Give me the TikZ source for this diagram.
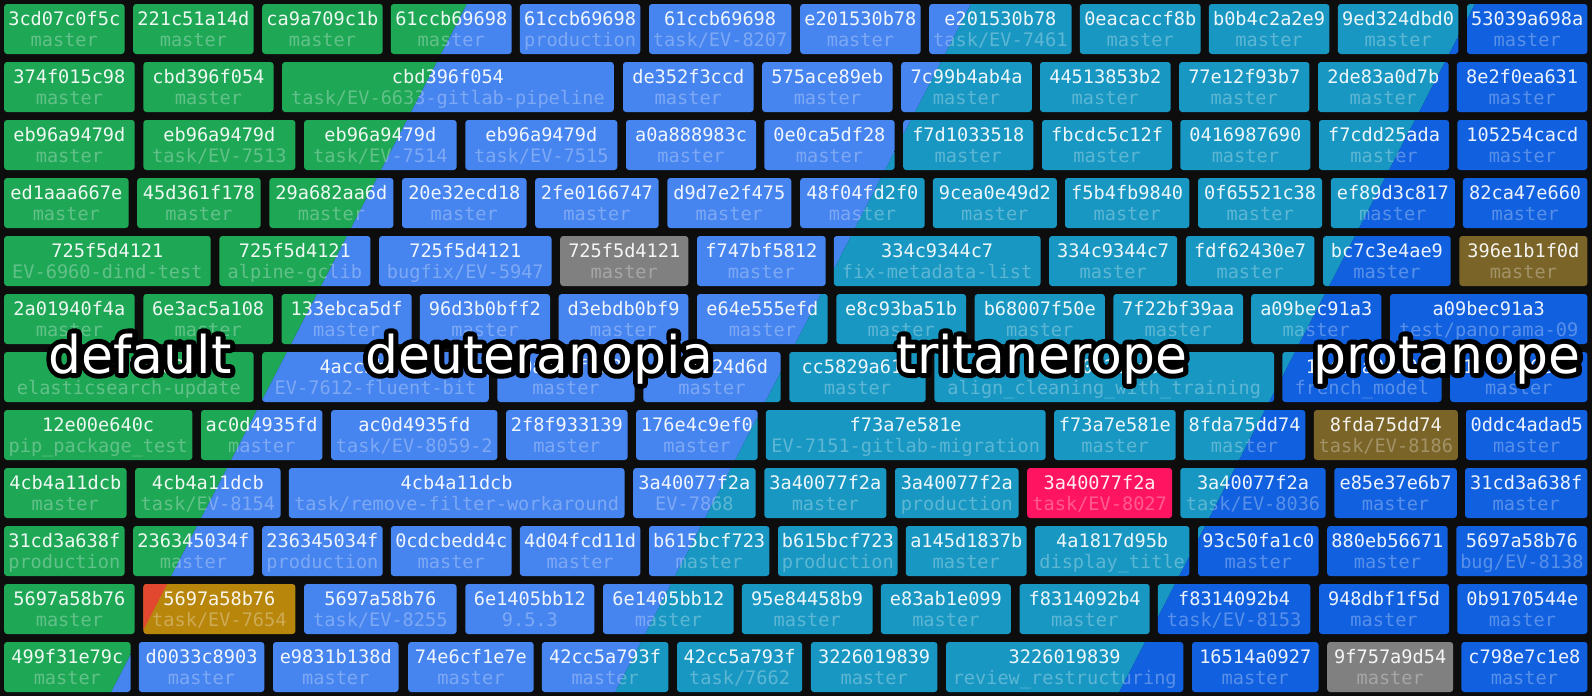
\documentclass[tikz,border=0pt]{standalone}
\usepackage{fontspec}
\setmainfont{DejaVu Sans}
\newfontfamily\boxmono{DejaVu Sans Mono}
\definecolor{bg}{HTML}{0D0D0D}
\definecolor{cgreen}{HTML}{1EA755}
\definecolor{cblue}{HTML}{4684F0}
\definecolor{cteal}{HTML}{1797C2}
\definecolor{cdark}{HTML}{1060E0}
\definecolor{cgray}{HTML}{808080}
\definecolor{cbrown}{HTML}{7A6427}
\definecolor{cpink}{HTML}{FF1462}
\definecolor{cred}{HTML}{E2472F}
\definecolor{camber}{HTML}{B8860B}
\tikzset{
  boxshape/.style={inner sep=0pt, outer sep=0pt, minimum height=50pt, draw=none},
  hashtext/.style={font=\boxmono\fontsize{18.6}{20}\selectfont, text=white, text opacity=0.92, anchor=base, inner sep=0pt},
  branchtext/.style={font=\boxmono\fontsize{18.6}{20}\selectfont, text=white, text opacity=0.3, anchor=base, inner sep=0pt},
  bigtext/.style={font=\fontsize{52}{58}\selectfont, text=white, anchor=base, inner sep=0pt}
}
\newcommand\bandfill{%
  \fill[cgreen] (-20,-20) -- (479.34,-20) -- (91.59,730) -- (-20,730) -- cycle;
  \fill[cblue] (479.34,-20) -- (983.34,-20) -- (595.59,730) -- (91.59,730) -- cycle;
  \fill[cteal] (983.34,-20) -- (1487.34,-20) -- (1099.59,730) -- (595.59,730) -- cycle;
  \fill[cdark] (1487.34,-20) -- (1620,-20) -- (1620,730) -- (1099.59,730) -- cycle;
}
\newcommand\fillsolid[1]{\fill[#1] (-20,-20) rectangle (1620,730);}
\newcommand\redamber{%
  \fill[camber] (-20,-20) rectangle (1620,730);
  \fill[cred] (-20,-20) -- (479.34,-20) -- (91.59,730) -- (-20,730) -- cycle;
}
\newcommand\cb[7][\bandfill]{%
  \pgfmathsetmacro\myyt{4+58*#5}%
  \pgfmathsetmacro\myxm{(#3+#4)/2}%
  \pgfmathsetmacro\mybw{#4-#3}%
  \node[boxshape, minimum width=\mybw pt] (#2) at (\myxm,\myyt+25) {};
  \begin{scope}
    \clip[rounded corners=3pt] (#2.north west) rectangle (#2.south east);
    #1
  \end{scope}
  \node[hashtext] (#2h) at (\myxm,\myyt+21.7) {#6};
  \node[branchtext] (#2b) at (\myxm,\myyt+42) {#7};
}
\newcommand\outlined[1]{%
  \rlap{\color{black}\special{pdf:literal direct 2 Tr 10 w 1 j 1 J}#1\special{pdf:literal direct 0 Tr}}%
  #1}
\begin{document}
\begin{tikzpicture}[x=1pt,y=-1pt]
\useasboundingbox (0,0) rectangle (1592,696);
\fill[bg] (0,0) rectangle (1592,696);
% row 0
\cb{r0c1}{4.1}{124.5}{0}{3cd07c0f5c}{master}
\cb{r0c2}{133.2}{253.6}{0}{221c51a14d}{master}
\cb{r0c3}{262.2}{382.7}{0}{ca9a709c1b}{master}
\cb{r0c4}{390.8}{511.7}{0}{61ccb69698}{master}
\cb{r0c5}{519.9}{640.3}{0}{61ccb69698}{production}
\cb{r0c6}{649}{791.3}{0}{61ccb69698}{task/EV-8207}
\cb{r0c7}{800.2}{920.6}{0}{e201530b78}{master}
\cb{r0c8}{929.2}{1071.6}{0}{e201530b78}{task/EV-7461}
\cb{r0c9}{1079.8}{1200.7}{0}{0eacaccf8b}{master}
\cb{r0c10}{1208.8}{1329.3}{0}{b0b4c2a2e9}{master}
\cb{r0c11}{1337.9}{1458.3}{0}{9ed324dbd0}{master}
\cb{r0c12}{1467}{1587.4}{0}{53039a698a}{master}
% row 1
\cb{r1c1}{4.1}{134.7}{1}{374f015c98}{master}
\cb{r1c2}{143.4}{273.5}{1}{cbd396f054}{master}
\cb{r1c3}{282.1}{613.8}{1}{cbd396f054}{task/EV-6633-gitlab-pipeline}
\cb{r1c4}{623}{753.6}{1}{de352f3ccd}{master}
\cb{r1c5}{762.2}{892.5}{1}{575ace89eb}{master}
\cb{r1c6}{901.2}{1031.8}{1}{7c99b4ab4a}{master}
\cb{r1c7}{1040}{1170.6}{1}{44513853b2}{master}
\cb{r1c8}{1179.2}{1309.3}{1}{77e12f93b7}{master}
\cb{r1c9}{1318}{1448.6}{1}{2de83a0d7b}{master}
\cb{r1c10}{1456.8}{1587.4}{1}{8e2f0ea631}{master}
% row 2
\cb{r2c1}{4.1}{134.7}{2}{eb96a9479d}{master}
\cb{r2c2}{143.4}{295.4}{2}{eb96a9479d}{task/EV-7513}
\cb{r2c3}{304.1}{456.6}{2}{eb96a9479d}{task/EV-7514}
\cb{r2c4}{465.3}{617.3}{2}{eb96a9479d}{task/EV-7515}
\cb{r2c5}{626}{756.1}{2}{a0a888983c}{master}
\cb{r2c6}{764.3}{894.6}{2}{0e0ca5df28}{master}
\cb{r2c7}{903.2}{1033.3}{2}{f7d1033518}{master}
\cb{r2c8}{1042}{1172.1}{2}{fbcdc5c12f}{master}
\cb{r2c9}{1180.3}{1310.4}{2}{0416987690}{master}
\cb{r2c10}{1319}{1449.1}{2}{f7cdd25ada}{master}
\cb{r2c11}{1457.3}{1587.4}{2}{105254cacd}{master}
% row 3
\cb{r3c1}{4.1}{128.6}{3}{ed1aaa667e}{master}
\cb{r3c2}{137.2}{260.7}{3}{45d361f178}{master}
\cb{r3c3}{269.4}{393.4}{3}{29a682aa6d}{master}
\cb{r3c4}{402}{526.5}{3}{20e32ecd18}{master}
\cb{r3c5}{535.2}{658.7}{3}{2fe0166747}{master}
\cb{r3c6}{667.3}{791.3}{3}{d9d7e2f475}{master}
\cb{r3c7}{800.2}{924.7}{3}{48f04fd2f0}{master}
\cb{r3c8}{932.8}{1056.8}{3}{9cea0e49d2}{master}
\cb{r3c9}{1065}{1189.4}{3}{f5b4fb9840}{master}
\cb{r3c10}{1198.1}{1322.1}{3}{0f65521c38}{master}
\cb{r3c11}{1330.8}{1454.8}{3}{ef89d3c817}{master}
\cb{r3c12}{1462.9}{1587.4}{3}{82ca47e660}{master}
% row 4
\cb{r4c1}{4.1}{210.7}{4}{725f5d4121}{EV-6960-dind-test}
\cb{r4c2}{219.4}{370.4}{4}{725f5d4121}{alpine-gclib}
\cb{r4c3}{379.1}{551.5}{4}{725f5d4121}{bugfix/EV-5947}
\cb[\fillsolid{cgray}]{r4c4}{560.2}{688.3}{4}{725f5d4121}{master}
\cb{r4c5}{697}{825.7}{4}{f747bf5812}{master}
\cb{r4c6}{833.8}{1040.5}{4}{334c9344c7}{fix-metadata-list}
\cb{r4c7}{1049.1}{1177.2}{4}{334c9344c7}{master}
\cb{r4c8}{1185.9}{1314.4}{4}{fdf62430e7}{master}
\cb{r4c9}{1323.1}{1450.7}{4}{bc7c3e4ae9}{master}
\cb[\fillsolid{cbrown}]{r4c10}{1459.3}{1587.4}{4}{396e1b1f0d}{master}
% row 5
\cb{r5c1}{4.1}{134.7}{5}{2a01940f4a}{master}
\cb{r5c2}{143.4}{273}{5}{6e3ac5a108}{master}
\cb{r5c3}{281.6}{411.7}{5}{133ebca5df}{master}
\cb{r5c4}{419.9}{550}{5}{96d3b0bff2}{master}
\cb{r5c5}{558.7}{688.3}{5}{d3ebdb0bf9}{master}
\cb{r5c6}{697}{827.7}{5}{e64e555efd}{master}
\cb{r5c7}{836.4}{966}{5}{e8c93ba51b}{master}
\cb{r5c8}{974.7}{1104.8}{5}{b68007f50e}{master}
\cb{r5c9}{1113.4}{1243}{5}{7f22bf39aa}{master}
\cb{r5c10}{1251.2}{1381.3}{5}{a09bec91a3}{master}
\cb{r5c11}{1390}{1587.4}{5}{a09bec91a3}{test/panorama-09}
% row 6
\cb{r6c1}{4.1}{253.6}{6}{9c1e57c3d2}{elasticsearch-update}
\cb{r6c2}{262.2}{488.8}{6}{4acc3b1e7f}{EV-7612-fluent-bit}
\cb{r6c3}{497.4}{634.7}{6}{c0a4e9f1b2}{master}
\cb{r6c4}{643.4}{780.6}{6}{a8e1f24d6d}{master}
\cb{r6c5}{789.3}{925.7}{6}{cc5829a61e}{master}
\cb{r6c6}{934.3}{1274.1}{6}{b3f0e2c8a5}{align\_cleaning\_with\_training}
\cb{r6c7}{1282.3}{1441.5}{6}{1e4f7a0c59}{french\_model}
\cb{r6c8}{1450.2}{1587.4}{6}{1c0d9a6e3b}{master}
% row 7
\cb{r7c1}{4.1}{192.3}{7}{12e00e640c}{pip\_package\_test}
\cb{r7c2}{201}{322.4}{7}{ac0d4935fd}{master}
\cb{r7c3}{331.1}{497.4}{7}{ac0d4935fd}{task/EV-8059-2}
\cb{r7c4}{506.1}{627.6}{7}{2f8f933139}{master}
\cb{r7c5}{636.2}{757.7}{7}{176e4c9ef0}{master}
\cb{r7c6}{765.8}{1045.6}{7}{f73a7e581e}{EV-7151-gitlab-migration}
\cb{r7c7}{1054.2}{1175.7}{7}{f73a7e581e}{master}
\cb{r7c8}{1183.8}{1305.3}{7}{8fda75dd74}{master}
\cb[\fillsolid{cbrown}]{r7c9}{1313.9}{1457.8}{7}{8fda75dd74}{task/EV-8186}
\cb{r7c10}{1466}{1587.4}{7}{0ddc4adad5}{master}
% row 8
\cb{r8c1}{4.1}{126.5}{8}{4cb4a11dcb}{master}
\cb{r8c2}{135.2}{280.6}{8}{4cb4a11dcb}{task/EV-8154}
\cb{r8c3}{288.8}{624.5}{8}{4cb4a11dcb}{task/remove-filter-workaround}
\cb{r8c4}{633.2}{755.6}{8}{3a40077f2a}{EV-7868}
\cb{r8c5}{764.3}{886.4}{8}{3a40077f2a}{master}
\cb{r8c6}{895}{1018.5}{8}{3a40077f2a}{production}
\cb[\fillsolid{cpink}]{r8c7}{1027.2}{1172.1}{8}{3a40077f2a}{task/EV-8027}
\cb{r8c8}{1180.3}{1325.7}{8}{3a40077f2a}{task/EV-8036}
\cb{r8c9}{1334.3}{1456.8}{8}{e85e37e6b7}{master}
\cb{r8c10}{1465}{1587.4}{8}{31cd3a638f}{master}
% row 9
\cb{r9c1}{4.1}{124.5}{9}{31cd3a638f}{production}
\cb{r9c2}{133.2}{253.6}{9}{236345034f}{master}
\cb{r9c3}{262.2}{382.7}{9}{236345034f}{production}
\cb{r9c4}{390.8}{511.7}{9}{0cdcbedd4c}{master}
\cb{r9c5}{519.9}{640.3}{9}{4d04fcd11d}{master}
\cb{r9c6}{649}{769.4}{9}{b615bcf723}{master}
\cb{r9c7}{778}{897.6}{9}{b615bcf723}{production}
\cb{r9c8}{905.8}{1026.7}{9}{a145d1837b}{master}
\cb{r9c9}{1034.9}{1189.4}{9}{4a1817d95b}{display\_title}
\cb{r9c10}{1198.1}{1318.5}{9}{93c50fa1c0}{master}
\cb{r9c11}{1327.2}{1447.6}{9}{880eb56671}{master}
\cb{r9c12}{1456.3}{1587.4}{9}{5697a58b76}{bug/EV-8138}
% row 10
\cb{r10c1}{4.1}{134.7}{10}{5697a58b76}{master}
\cb[\redamber]{r10c2}{143.4}{295.4}{10}{5697a58b76}{task/EV-7654}
\cb{r10c3}{304.1}{456.6}{10}{5697a58b76}{task/EV-8255}
\cb{r10c4}{465.3}{594.4}{10}{6e1405bb12}{9.5.3}
\cb{r10c5}{603}{733.7}{10}{6e1405bb12}{master}
\cb{r10c6}{741.8}{872.6}{10}{95e84458b9}{master}
\cb{r10c7}{880.8}{1010.9}{10}{e83ab1e099}{master}
\cb{r10c8}{1019.6}{1149.7}{10}{f8314092b4}{master}
\cb{r10c9}{1157.8}{1310.4}{10}{f8314092b4}{task/EV-8153}
\cb{r10c10}{1319}{1449.1}{10}{948dbf1f5d}{master}
\cb{r10c11}{1457.3}{1587.4}{10}{0b9170544e}{master}
% row 11
\cb{r11c1}{4.1}{130.6}{11}{499f31e79c}{master}
\cb{r11c2}{138.8}{264.3}{11}{d0033c8903}{master}
\cb{r11c3}{273}{398.5}{11}{e9831b138d}{master}
\cb{r11c4}{408.2}{533.7}{11}{74e6cf1e7e}{master}
\cb{r11c5}{541.8}{668.4}{11}{42cc5a793f}{master}
\cb{r11c6}{677}{802.2}{11}{42cc5a793f}{task/7662}
\cb{r11c7}{810.9}{937.4}{11}{3226019839}{master}
\cb{r11c8}{946.1}{1183.3}{11}{3226019839}{review\_restructuring}
\cb{r11c9}{1192}{1318.5}{11}{16514a0927}{master}
\cb[\fillsolid{cgray}]{r11c10}{1327.2}{1453.2}{11}{9f757a9d54}{master}
\cb{r11c11}{1461.4}{1587.4}{11}{c798e7c1e8}{master}
% labels
\node[bigtext] (lbldefault) at (140,373) {\outlined{default}};
\node[bigtext] (lbldeut) at (539,373) {\outlined{deuteranopia}};
\node[bigtext] (lbltrit) at (1042,373) {\outlined{tritanerope}};
\node[bigtext] (lblprot) at (1447,373) {\outlined{protanope}};
\end{tikzpicture}
\end{document}
